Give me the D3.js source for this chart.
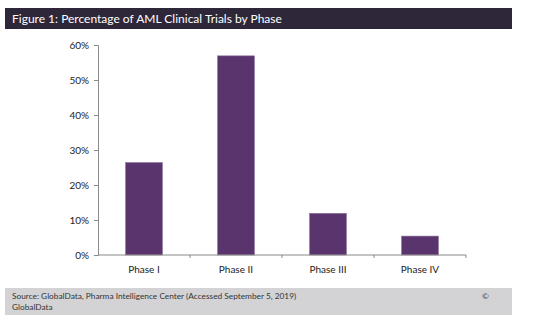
<!DOCTYPE html>
<html><head><meta charset="utf-8">
<script src="https://cdn.jsdelivr.net/npm/d3@7"></script>
<style>body{margin:0;background:#fff}svg{display:block}</style>
</head><body>
<svg id="c" width="545" height="326"></svg>
<script>
const categories = ["Phase I", "Phase II", "Phase III", "Phase IV"];
const values = [26.4, 56.9, 11.9, 5.4];
const yTicks = [0, 10, 20, 30, 40, 50, 60];
const title = "Figure 1: Percentage of AML Clinical Trials by Phase";
const source1 = "Source: GlobalData, Pharma Intelligence Center (Accessed September 5, 2019)";
const source2 = "GlobalData";

const svg = d3.select("#c");
const font = "Lato, 'Open Sans', sans-serif";

svg.append("rect").attr("x", 5).attr("y", 8).attr("width", 507).attr("height", 21).attr("fill", "#2e2739");
svg.append("text").attr("x", 12).attr("y", 22.5).attr("fill", "#fff").attr("font-family", font).attr("font-size", 12).text(title);

svg.append("rect").attr("x", 5).attr("y", 288).attr("width", 507).attr("height", 27).attr("fill", "#d3d3d5");
svg.append("text").attr("x", 12).attr("y", 299).attr("fill", "#333").attr("font-family", font).attr("font-size", 8.3).text(source1);
svg.append("text").attr("x", 12).attr("y", 310).attr("fill", "#333").attr("font-family", font).attr("font-size", 8.3).text(source2);
svg.append("text").attr("x", 482).attr("y", 299).attr("fill", "#333").attr("font-family", font).attr("font-size", 8.3).text("©");

const x = d3.scaleBand().domain(categories).range([98, 466]).paddingInner(0.6).paddingOuter(0.3);
const y = d3.scaleLinear().domain([0, 60]).range([255, 45]);

svg.selectAll("rect.bar").data(values).join("rect").attr("class", "bar")
  .attr("x", (d, i) => x(categories[i])).attr("width", x.bandwidth())
  .attr("y", d => y(d)).attr("height", d => y(0) - y(d))
  .attr("fill", "#5a356d").attr("stroke", "#8a6c9a").attr("stroke-width", 0.6);

const yAxis = svg.append("g").attr("transform", "translate(98,0)")
  .call(d3.axisLeft(y).tickValues(yTicks).tickFormat(d => d + "%").tickSize(4).tickPadding(5));
yAxis.select(".domain").attr("stroke", "#8a8a8a");
yAxis.selectAll(".tick line").attr("stroke", "#8a8a8a");
yAxis.selectAll("text").attr("font-family", font).attr("font-size", 10).attr("fill", "#222");

const xb = d3.scaleLinear().domain([0, categories.length]).range([98, 466]);
const xAxis = svg.append("g").attr("transform", "translate(0,255)");
xAxis.append("line").attr("x1", 98).attr("x2", 466).attr("stroke", "#8a8a8a");
xAxis.selectAll("line.t").data(d3.range(1, categories.length + 1)).join("line").attr("class", "t")
  .attr("x1", d => xb(d)).attr("x2", d => xb(d)).attr("y1", 0).attr("y2", 3).attr("stroke", "#8a8a8a");
xAxis.selectAll("text").data(categories).join("text")
  .attr("x", d => x(d) + x.bandwidth() / 2).attr("y", 18).attr("text-anchor", "middle")
  .attr("font-family", font).attr("font-size", 10).attr("fill", "#222").text(d => d);
</script>
</body></html>
